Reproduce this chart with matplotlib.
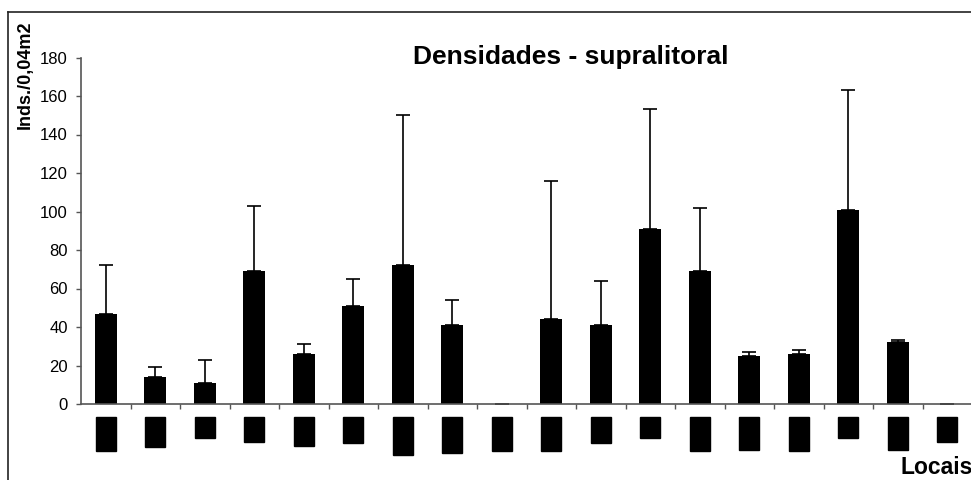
import numpy as np
import matplotlib
matplotlib.use("Agg")
import matplotlib.pyplot as plt
from matplotlib.lines import Line2D

# densities per site (mean and upper error limit); site names are blacked out
sites = ["██..", "██.", "█.", "█..", "█...", "██", "██...", "███", "██..",
         "██..", "██", "█.", "██..", "█....", "██..", "█.", "█....", "█.."]
means = [47, 14, 11, 69, 26, 51, 72, 41, 0, 44, 41, 91, 69, 25, 26, 101, 32, 0]
upper = [72, 19, 23, 103, 31, 65, 150, 54, 0, 116, 64, 153, 102, 27, 28, 163, 33, 0]

plt.rcParams['font.family'] = ['Liberation Sans', 'DejaVu Sans']

W, H = 971, 480
fig = plt.figure(figsize=(W / 100, H / 100), dpi=100)
ax = fig.add_axes([81 / W, 1 - 404 / H, 891 / W, 346.5 / H])

x = np.arange(len(means))
err = np.array(upper) - np.array(means)
ax.bar(x, means, width=0.44, color="black")
ax.errorbar(x, means, yerr=[np.zeros_like(err), err], fmt="none",
            ecolor="black", elinewidth=1.2, capsize=4.7, capthick=1.2)

ax.set_xlim(-0.5, len(means) - 0.5)
ax.set_ylim(0, 180)
ax.set_yticks(np.arange(0, 181, 20))
ax.tick_params(axis="y", labelsize=12, length=3.5, width=1, color="#555555", pad=6)

# ticks between categories, labels at category centers
ax.set_xticks(np.arange(len(means)) + 0.5)
ax.set_xticklabels([])
ax.tick_params(axis="x", which="major", length=3.5, width=1, color="#555555")
ax.set_xticks(x, minor=True)
ax.set_xticklabels(sites, minor=True, rotation=90, va="top",
                   family="DejaVu Sans", fontsize=9)
ax.tick_params(axis="x", which="minor", length=0, pad=12)
for lbl in ax.get_xticklabels(minor=True):
    lbl.set_bbox(dict(facecolor="black", edgecolor="black", pad=2.5))

for side in ("top", "right"):
    ax.spines[side].set_visible(False)
for side in ("left", "bottom"):
    ax.spines[side].set_color("#555555")
    ax.spines[side].set_linewidth(1.2)

fig.text(571 / W, 1 - 57 / H, "Densidades - supralitoral", fontsize=19,
         fontweight="bold", ha="center", va="center")
fig.text(25 / W, 1 - 75 / H, "Inds./0,04m2", fontsize=13, fontweight="bold",
         rotation=90, ha="center", va="center")
fig.text(900 / W, 1 - 474 / H, "Locais", fontsize=16.5, fontweight="bold",
         ha="left", va="baseline")

# chart frame (top and left edges)
fig.add_artist(Line2D([8 / W, 1.01], [1 - 12 / H, 1 - 12 / H], color="#222222", lw=1.2))
fig.add_artist(Line2D([8 / W, 8 / W], [1 - 12 / H, -0.01], color="#222222", lw=1.2))

fig.savefig("out.png", dpi=100)
